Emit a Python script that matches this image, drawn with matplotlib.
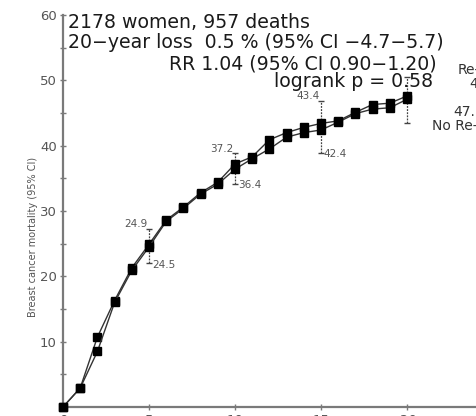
import matplotlib
matplotlib.use("Agg")
import matplotlib.pyplot as plt
import matplotlib.transforms as mtransforms

# ---------------- data ----------------
years = list(range(0, 21))
series_a = [0, 2.9, 10.7, 16.3, 21.3, 24.9, 28.6, 30.6, 32.8, 34.4, 37.2,
            38.3, 40.9, 42.0, 42.8, 43.4, 43.8, 45.1, 46.3, 46.5, 47.6]
series_b = [0, 2.9, 8.5, 16.0, 20.9, 24.5, 28.4, 30.4, 32.6, 34.1, 36.4,
            38.0, 39.5, 41.3, 42.0, 42.4, 43.6, 44.9, 45.6, 45.8, 47.1]
ci_years = [5, 10, 15, 20]
ci_upper_a = [27.3, 38.9, 46.9, 50.5]
ci_lower_b = [22.0, 34.2, 38.9, 43.4]
label_years = [5, 10, 15]
label_a = ["24.9", "37.2", "43.4"]
label_b = ["24.5", "36.4", "42.4"]
xticks = [0, 5, 10, 15, 20]
xtick_labels = ["0", "5", "10", "15", "20years"]
yticks = [0, 10, 20, 30, 40, 50, 60]
ytick_labels = ["", "10", "20", "30", "40", "50", "60"]
name_a = "Re-excision"
name_b = "No Re-excision"
end_a = "47.6"
end_b = "47.1"
info_lines = ["2178 women, 957 deaths",
              "20\u2212year loss  0.5 % (95% CI \u22124.7\u22125.7)",
              "RR 1.04 (95% CI 0.90\u22121.20)",
              "logrank p = 0.58"]

W, H = 476, 416
fig = plt.figure(figsize=(W / 100, H / 100), dpi=100)

def fx(px):
    return px / W

def fy(py):
    return 1 - py / H

# axes: x=0 at px 63, 17.2 px/yr ; y=0 at py 407, y=60 at py 15
x0, ppx = 63, 17.2
xmax = 25
ax = fig.add_axes([fx(x0), fy(407), (xmax * ppx) / W, (407 - 15) / H])
ax.set_xlim(0, xmax)
ax.set_ylim(0, 60)

grey = "#7a7a7a"
txt = "#555555"
for s in ["top", "right"]:
    ax.spines[s].set_visible(False)
for s in ["left", "bottom"]:
    ax.spines[s].set_color(grey)
    ax.spines[s].set_linewidth(1.6)
ax.spines["bottom"].set_bounds(0, xmax)

ax.set_yticks(yticks)
ax.set_yticklabels(ytick_labels)
ax.set_yticks([5, 15, 25, 35, 45, 55], minor=True)
ax.set_xticks(xticks)
ax.set_xticklabels(xtick_labels)
ax.tick_params(axis="both", which="both", direction="inout", length=5,
               width=1, color=grey, labelcolor=txt, labelsize=9.5)
ax.tick_params(axis="x", pad=2.5)
ax.tick_params(axis="y", pad=2)
lab = ax.get_xticklabels()[-1]
lab.set_horizontalalignment("left")
lab.set_transform(lab.get_transform() +
                  mtransforms.ScaledTranslation(-7 / 100, 0, fig.dpi_scale_trans))

# lines & markers
ax.plot(years, series_a, color="#333333", lw=1.0, marker="s", ms=5.5,
        mfc="black", mec="black", clip_on=False, zorder=3)
ax.plot(years, series_b, color="#333333", lw=1.0, marker="s", ms=5.5,
        mfc="black", mec="black", clip_on=False, zorder=3)

# error bars
ya = [series_a[years.index(y)] for y in ci_years]
yb = [series_b[years.index(y)] for y in ci_years]
ax.vlines(ci_years, ya, ci_upper_a, colors="#444444", linewidth=0.9,
          linestyles=(0, (1.5, 1)), zorder=2)
ax.vlines(ci_years, ci_lower_b, yb, colors="#444444", linewidth=0.9,
          linestyles=(0, (1.5, 1)), zorder=2)
ax.plot(ci_years, ci_upper_a, ls="none", marker="_", ms=4, color="#444444")
ax.plot(ci_years, ci_lower_b, ls="none", marker="_", ms=4, color="#444444")

# value labels
for yr, la, lb in zip(label_years, label_a, label_b):
    i = ci_years.index(yr)
    ax.annotate(la, (yr, ci_upper_a[i]), xytext=(-1, 3), textcoords="offset points",
                ha="right", va="center", fontsize=7.5, color=txt)
    ax.annotate(lb, (yr, ci_lower_b[i]), xytext=(2, -1), textcoords="offset points",
                ha="left", va="center", fontsize=7.5, color=txt)

# info text
fig.text(fx(68), fy(28), info_lines[0], ha="left", va="baseline", fontsize=13.6, color="#1a1a1a")
fig.text(fx(68), fy(48), info_lines[1], ha="left", va="baseline", fontsize=13.6, color="#1a1a1a")
fig.text(fx(437), fy(69), info_lines[2], ha="right", va="baseline", fontsize=13.6, color="#1a1a1a")
fig.text(fx(433), fy(87), info_lines[3], ha="right", va="baseline", fontsize=13.6, color="#1a1a1a")

# right edge labels (cut off)
fig.text(fx(458), fy(70), name_a, ha="left", va="center", fontsize=10, color="#333333")
fig.text(fx(469), fy(84), end_a, ha="left", va="center", fontsize=10, color="#333333")
fig.text(fx(453), fy(112), end_b, ha="left", va="center", fontsize=10, color="#333333")
fig.text(fx(432), fy(126), name_b, ha="left", va="center", fontsize=10, color="#333333")

# y label
fig.text(fx(33), fy(237), "Breast cancer mortality (95% CI)", rotation=90,
         ha="center", va="center", fontsize=7, color=txt)

fig.savefig("out.png", dpi=100)
